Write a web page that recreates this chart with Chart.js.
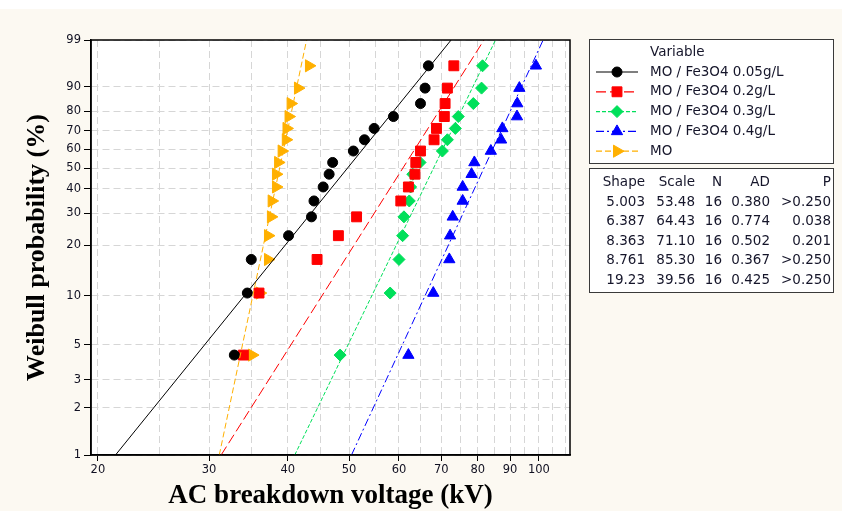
<!DOCTYPE html>
<html>
<head>
<meta charset="utf-8">
<script src="https://cdn.jsdelivr.net/npm/chart.js@4.4.1/dist/chart.umd.min.js"></script>
<style>
  html, body { margin: 0; padding: 0; }
  body { background: linear-gradient(#ffffff 0, #ffffff 9px, #fcf9f2 9px); width: 842px; height: 511px; overflow: hidden; }
  #wrap { position: relative; width: 842px; height: 511px; }
</style>
</head>
<body>
<div id="wrap"><canvas id="chart" width="842" height="511"></canvas></div>
<script>
// Weibull probability plot data
const seriesLabels = ['MO / Fe3O4 0.05g/L', 'MO / Fe3O4 0.2g/L', 'MO / Fe3O4 0.3g/L', 'MO / Fe3O4 0.4g/L', 'MO'];

// plotting positions (%), same for every series (16 samples)
const probs = [4.3, 10.4, 16.5, 22.6, 28.7, 34.8, 40.9, 47.0, 53.0, 59.1, 65.2, 71.3, 77.4, 83.5, 89.6, 95.7];

// breakdown voltages (kV)
const mo005 = [32.9, 34.5, 35.0, 40.1, 43.6, 44.0, 45.5, 46.5, 47.1, 50.8, 52.9, 54.8, 58.8, 64.9, 66.0, 66.8];
const mo02  = [34.0, 36.0, 44.5, 48.1, 51.4, 60.4, 62.1, 63.6, 63.8, 64.9, 68.2, 68.8, 70.8, 71.0, 71.6, 73.3];
const mo03  = [48.4, 58.1, 60.0, 60.8, 61.1, 62.3, 62.6, 63.1, 64.8, 70.3, 71.6, 73.7, 74.5, 78.7, 81.1, 81.4];
const mo04  = [62.1, 68.0, 72.1, 72.3, 73.0, 75.7, 75.7, 78.2, 79.0, 83.9, 87.1, 87.5, 92.3, 92.4, 93.1, 98.9];
const moPure = [35.1, 36.1, 37.2, 37.2, 37.6, 37.7, 38.3, 38.3, 38.6, 39.1, 39.7, 39.8, 40.1, 40.4, 41.5, 43.2];

// fit table
const shapes = ['5.003', '6.387', '8.363', '8.761', '19.23'];
const scales = ['53.48', '64.43', '71.10', '85.30', '39.56'];
const counts = ['16', '16', '16', '16', '16'];
const adVals = ['0.380', '0.774', '0.502', '0.367', '0.425'];
const pVals = ['>0.250', '0.038', '0.201', '>0.250', '>0.250'];

// axis ticks
const yTicks = [1, 2, 3, 5, 10, 20, 30, 40, 50, 60, 70, 80, 90, 99];
const xGrid = [20, 25, 30, 35, 40, 45, 50, 55, 60, 65, 70, 75, 80, 85, 90, 95, 100, 105, 110];
const xLabels = [20, 30, 40, 50, 60, 70, 80, 90, 100];

const colors = ['#000000', '#ff0000', '#00e05a', '#0000ff', '#ffb000'];
const markers = ['circle', 'rect', 'rectRot', 'triangle', 'triangle'];
const markerSize = [5, 7, 6, 6.5, 7];
const markerRot = [0, 0, 0, 0, 90];
const dashes = [[], [10, 4], [4, 2], [8, 3, 2, 3], [6, 3]];

const allSeries = [mo005, mo02, mo03, mo04, moPure];

// probability (%) -> Weibull axis value
const weib = p => Math.log(-Math.log(1 - p / 100));

const datasets = [];
allSeries.forEach((vals, i) => {
  // fitted line from shape / scale, spanning 1% .. 99%
  const k = parseFloat(shapes[i]);
  const lam = parseFloat(scales[i]);
  const fit = [1, 99].map(p => ({ x: lam * Math.exp(weib(p) / k), y: weib(p) }));
  datasets.push({
    label: seriesLabels[i] + ' fit',
    data: fit,
    showLine: true,
    borderColor: colors[i],
    borderWidth: 1,
    borderDash: dashes[i],
    pointRadius: 0
  });
});
allSeries.forEach((vals, i) => {
  datasets.push({
    label: seriesLabels[i],
    data: vals.map((v, j) => ({ x: v, y: weib(probs[j]) })),
    showLine: false,
    backgroundColor: colors[i],
    borderColor: colors[i],
    borderWidth: 1,
    pointStyle: markers[i],
    pointRadius: markerSize[i],
    pointRotation: markerRot[i]
  });
});

const txtFont = '13.5px "DejaVu Sans"';
const txtColor = '#15152a';

const boxPlugin = {
  id: 'boxes',
  beforeDraw(chart) {
    const { ctx, chartArea: a } = chart;
    ctx.save();
    ctx.fillStyle = '#ffffff';
    ctx.fillRect(a.left, a.top, a.right - a.left, a.bottom - a.top);
    ctx.restore();
  },
  afterDraw(chart) {
    const { ctx, chartArea: a } = chart;
    ctx.save();
    // frame round the plot
    ctx.strokeStyle = '#000';
    ctx.lineWidth = 1.5;
    ctx.strokeRect(a.left, a.top, a.right - a.left, a.bottom - a.top);

    // legend + table boxes
    ctx.fillStyle = '#fff';
    ctx.fillRect(589, 39, 244, 124);
    ctx.fillRect(589, 168, 244, 124);
    ctx.strokeStyle = '#3a3a3a';
    ctx.lineWidth = 1;
    ctx.strokeRect(589.5, 39.5, 244, 124);
    ctx.strokeRect(589.5, 168.5, 244, 124);

    ctx.font = txtFont;
    ctx.fillStyle = txtColor;
    ctx.textBaseline = 'middle';
    ctx.textAlign = 'left';
    ctx.fillText('Variable', 650, 52);

    seriesLabels.forEach((lab, i) => {
      const y = 72 + i * 19.8;
      ctx.save();
      ctx.strokeStyle = colors[i];
      ctx.lineWidth = 1.2;
      ctx.setLineDash(dashes[i]);
      ctx.beginPath();
      ctx.moveTo(596, y);
      ctx.lineTo(638, y);
      ctx.stroke();
      ctx.restore();

      ctx.save();
      ctx.fillStyle = colors[i];
      ctx.strokeStyle = colors[i];
      Chart.helpers.drawPoint(ctx, {
        pointStyle: markers[i],
        radius: markerSize[i],
        rotation: markerRot[i],
        borderWidth: 1
      }, 617, y);
      ctx.restore();

      ctx.fillStyle = txtColor;
      ctx.fillText(lab, 650, y);
    });

    // stats table
    const cols = [645, 695, 722, 770, 831];
    const heads = ['Shape', 'Scale', 'N', 'AD', 'P'];
    ctx.textAlign = 'right';
    heads.forEach((h, c) => ctx.fillText(h, cols[c], 182));
    shapes.forEach((s, r) => {
      const y = 202 + r * 19.5;
      [shapes[r], scales[r], counts[r], adVals[r], pVals[r]].forEach((t, c) => ctx.fillText(t, cols[c], y));
    });
    ctx.restore();
  }
};

new Chart(document.getElementById('chart'), {
  type: 'scatter',
  data: { datasets },
  options: {
    responsive: false,
    animation: false,
    events: [],
    layout: { padding: { left: 0, right: 272, top: 40, bottom: 0 } },
    plugins: { legend: { display: false }, tooltip: { enabled: false } },
    scales: {
      x: {
        type: 'logarithmic',
        min: 19.5,
        max: 112,
        afterBuildTicks: s => { s.ticks = xGrid.map(v => ({ value: v })); },
        afterFit: s => { s.height = 56; },
        ticks: {
          autoSkip: false,
          maxRotation: 0,
          padding: 2,
          color: '#111122',
          font: { family: 'DejaVu Sans', size: 11.5 },
          callback: v => (xLabels.includes(v) ? String(v) : '')
        },
        grid: {
          color: '#d6d6d6',
          lineWidth: 1,
          tickLength: 6,
          tickColor: c => (c.tick && xLabels.includes(c.tick.value) ? '#000' : 'rgba(0,0,0,0)')
        },
        border: { color: '#000', width: 1.5, dash: [7, 4] },
        title: {
          display: true,
          text: 'AC breakdown voltage (kV)',
          color: '#000',
          font: { family: 'Liberation Serif', size: 27, weight: 'bold', lineHeight: 1 },
          padding: { top: 0, bottom: 1.5 }
        }
      },
      y: {
        type: 'linear',
        min: weib(1),
        max: weib(99),
        afterBuildTicks: s => { s.ticks = yTicks.map(p => ({ value: weib(p) })); },
        afterFit: s => { s.width = 91; },
        ticks: {
          autoSkip: false,
          padding: 3,
          color: '#111122',
          font: { family: 'DejaVu Sans', size: 11.5 },
          callback: (v, i) => String(yTicks[i])
        },
        grid: { color: '#d6d6d6', lineWidth: 1, tickLength: 7, tickColor: '#000' },
        border: { color: '#000', width: 1.5, dash: [7, 4] },
        title: {
          display: true,
          text: 'Weibull probability (%)',
          color: '#000',
          font: { family: 'Liberation Serif', size: 26, weight: 'bold', lineHeight: 1 },
          padding: { top: 24, bottom: 0 }
        }
      }
    }
  },
  plugins: [boxPlugin]
});
</script>
</body>
</html>
